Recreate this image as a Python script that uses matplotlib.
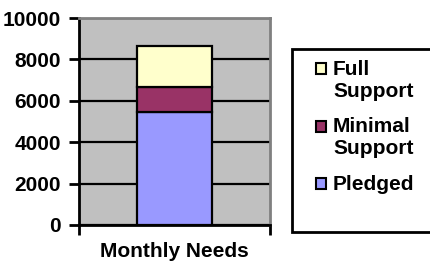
import matplotlib.pyplot as plt
from matplotlib.patches import Rectangle

# data
category = "Monthly Needs"
series = ["Pledged", "Minimal\nSupport", "Full\nSupport"]
values = [5450, 1200, 2000]
colors = ["#9999FF", "#993366", "#FFFFCC"]
yticks = [0, 2000, 4000, 6000, 8000, 10000]

plt.rcParams['font.family'] = ['Liberation Sans', 'DejaVu Sans']
plt.rcParams['font.weight'] = 'bold'
plt.rcParams['font.size'] = 15

W, H = 430, 265
fig = plt.figure(figsize=(W / 100, H / 100), dpi=100)
ax = fig.add_axes([79 / W, 1 - 225 / H, (270 - 79) / W, (225 - 18) / H])
ax.set_facecolor("#C0C0C0")

# gridlines
ax.set_axisbelow(True)
ax.yaxis.grid(True, color="black", linewidth=1.6)

# stacked bar
bottom = 0
for name, v, c in zip(series, values, colors):
    ax.bar(0, v, width=0.395, bottom=bottom, color=c, edgecolor="black",
           linewidth=1.6, zorder=3)
    bottom += v

ax.set_xlim(-0.5, 0.5)
ax.set_ylim(0, 10000)
ax.set_yticks(yticks)
ax.set_yticklabels([str(t) for t in yticks])
ax.set_xticks([-0.5, 0.5])
ax.set_xticklabels(["", ""])
ax.tick_params(axis="both", direction="out", length=7, width=2, pad=6)
ax.tick_params(axis="x", pad=0)
ax.set_xlabel(category, labelpad=5, fontweight="bold")

for s in ["left", "bottom"]:
    ax.spines[s].set_color("black")
    ax.spines[s].set_linewidth(2)
for s in ["top", "right"]:
    ax.spines[s].set_color("#808080")
    ax.spines[s].set_linewidth(2)

# legend box (runs off the right edge)
fig.add_artist(Rectangle((292 / W, 1 - 232 / H), 150 / W, (232 - 49) / H,
                         transform=fig.transFigure, facecolor="white",
                         edgecolor="black", linewidth=2, clip_on=False))

for i, (name, c) in enumerate(zip(series[::-1], colors[::-1])):
    cy = 68.5 + 57.5 * i
    fig.add_artist(Rectangle((316 / W, 1 - (cy + 5.5) / H), 10 / W, 11 / H,
                             transform=fig.transFigure, facecolor=c,
                             edgecolor="black", linewidth=1.5))
    fig.text(333 / W, 1 - (cy - 9) / H, name, ha="left", va="top",
             linespacing=1.2, fontweight="bold")

fig.savefig("out.png", dpi=100)
